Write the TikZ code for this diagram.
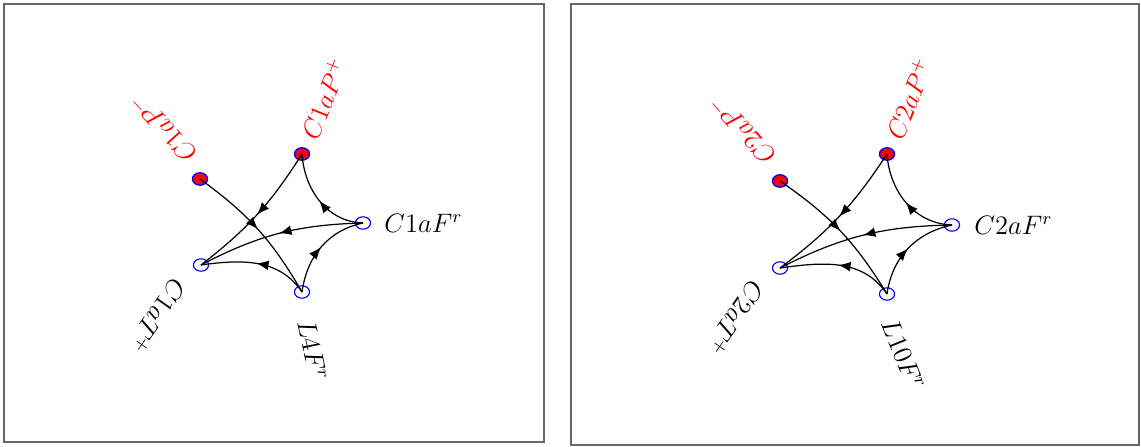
\documentclass[tikz,border=0pt]{standalone}
\usepackage{xcolor}
\usepackage{tikz}
\usepackage{amsmath}
\usetikzlibrary{shapes.geometric, arrows.meta, decorations.markings}

\begin{document}
\begin{tikzpicture}[
    x=0.45pt, y=0.45pt,
    marked/.style = {ellipse, draw=blue, fill=red, line width=0.6pt, minimum width=6.8pt, minimum height=5.6pt, inner sep=0pt},
    place/.style = {ellipse, draw=blue, line width=0.5pt, minimum width=6.8pt, minimum height=5.6pt, inner sep=0pt},
    redlabel/.style = {text=red, anchor=west, inner sep=0pt, font=\large},
    blacklabel/.style = {text=black, anchor=west, inner sep=0pt, font=\large},
    link/.style = {line width=0.55pt, postaction={decorate},
        decoration={markings, mark=at position #1 with {\arrow{Latex[length=5.5pt, width=4.4pt]}}}},
    link/.default = 0.5,
    panel/.style = {draw=black!60, line width=0.7pt}
]
\useasboundingbox (0,0) rectangle (1141,446);

\draw[panel] (4,4) rectangle (544,442);
\draw[panel] (571,1) rectangle (1139,442);

% first net
\node [marked] (pm1) at (200, 267) {};
\node [marked] (pp1) at (302, 292) {};
\node [place] (fr1) at (363, 223) {};
\node [place] (tp1) at (201, 181) {};
\node [place] (l1) at (302, 154) {};

\node [redlabel, rotate=68] (lpp1) at (308, 308) {$C1aP^{+}$};
\node [redlabel, rotate=132] (lpm1) at (191, 286) {$C1aP^{-}$};
\node [blacklabel, rotate=235] (ltp1) at (181, 164) {$C1aT^{+}$};
\node [blacklabel, rotate=-78] (ll1) at (306, 126) {$L4F^{r}$};
\node [blacklabel] (lfr1) at (384, 223) {$C1aF^{r}$};

\draw[link] (pm1.center) to[bend left=12] (l1.center);
\draw[link] (pp1.center) to[bend left=10] (tp1.center);
\draw[link] (fr1.center) to[out=178, in=-86] (pp1.center);
\draw[link] (fr1.center) to[bend right=13] (tp1.center);
\draw[link] (l1.center) to[out=82, in=192] (fr1.center);
\draw[link] (l1.center) to[out=124, in=8] (tp1.center);

% second net
\node [marked] (pm2) at (780, 265) {};
\node [marked] (pp2) at (887, 292) {};
\node [place] (fr2) at (952, 221) {};
\node [place] (tp2) at (780, 178) {};
\node [place] (l2) at (887, 152) {};

\node [redlabel, rotate=68] (lpp2) at (893, 308) {$C2aP^{+}$};
\node [redlabel, rotate=132] (lpm2) at (770, 284) {$C2aP^{-}$};
\node [blacklabel, rotate=235] (ltp2) at (759, 162) {$C2aT^{+}$};
\node [blacklabel, rotate=-68] (ll2) at (889, 126) {$L10F^{r}$};
\node [blacklabel] (lfr2) at (974, 221) {$C2aF^{r}$};

\draw[link] (pm2.center) to[bend left=12] (l2.center);
\draw[link] (pp2.center) to[bend left=10] (tp2.center);
\draw[link] (fr2.center) to[out=178, in=-86] (pp2.center);
\draw[link] (fr2.center) to[bend right=13] (tp2.center);
\draw[link] (l2.center) to[out=82, in=192] (fr2.center);
\draw[link] (l2.center) to[out=124, in=8] (tp2.center);

\end{tikzpicture}
\end{document}
